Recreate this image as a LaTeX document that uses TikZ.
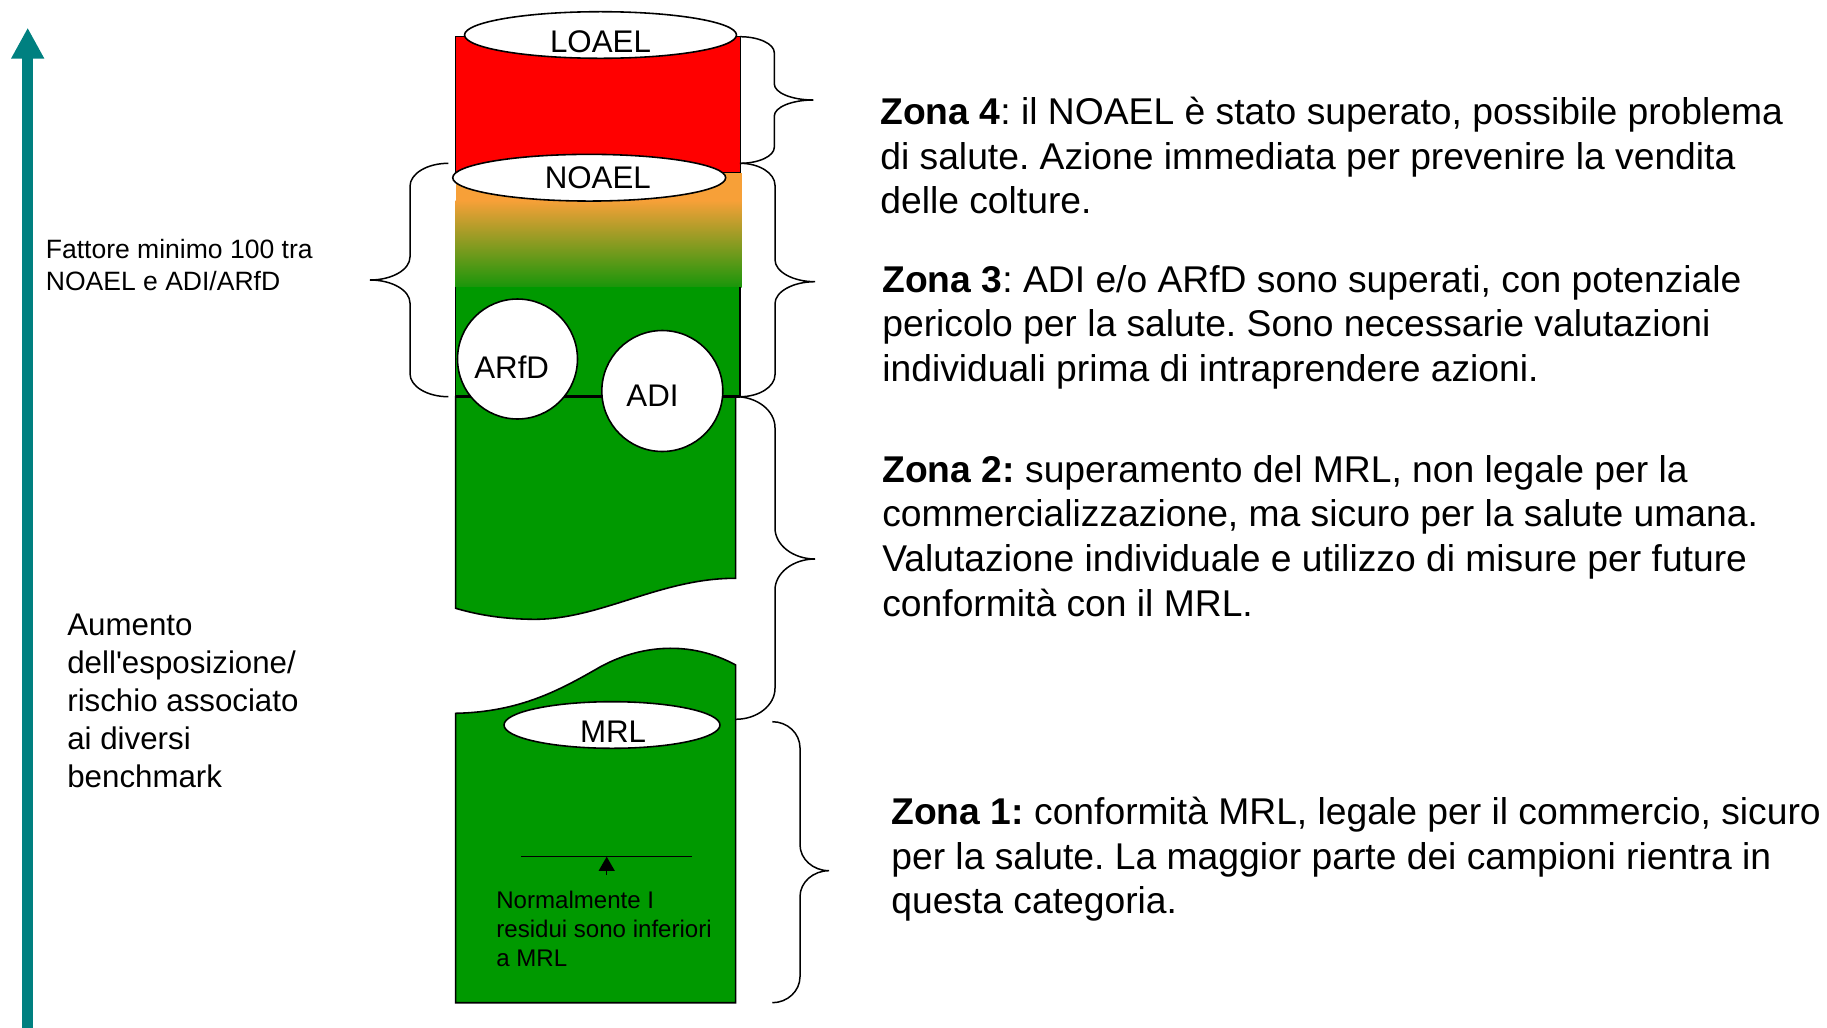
\documentclass[tikz,border=0pt]{standalone}
\usepackage{fontspec}
\setmainfont{Liberation Sans}
\usetikzlibrary{arrows.meta,shapes.geometric}
\frenchspacing

\definecolor{zred}{RGB}{255,0,0}
\definecolor{zgreen}{RGB}{0,153,0}
\definecolor{zorange}{RGB}{247,160,56}
\definecolor{zochre}{RGB}{175,152,42}
\definecolor{zolive}{RGB}{25,150,10}
\definecolor{zteal}{RGB}{0,128,128}

\tikzset{
  wall/.style={line width=0.9pt},
  tag/.style={inner sep=0pt,font=\fontsize{17.8}{21.4}\selectfont},
  lid/.style={ellipse,draw,fill=white,wall,inner sep=0pt},
  dose/.style={circle,draw,fill=white,wall,inner sep=0pt,minimum size=2.4cm},
  zone/.style={anchor=north west,inner sep=0pt,align=left,
    font=\fontsize{21.2}{25.5}\selectfont},
  side/.style={anchor=north west,inner sep=0pt,align=left},
  zonebrace/.style={line width=0.85pt}
}

\begin{document}
\begin{tikzpicture}[x=0.02cm,y=-0.02cm]
  \useasboundingbox (0,0) rectangle (1827,1028);

  \coordinate (axbot) at (27.7,1028);
  \coordinate (axtop) at (27.7,27.7);
  \draw[zteal,line width=6.3pt,-{Triangle[width=17.6pt,length=17.6pt]}] (axbot) -- (axtop);

  \draw[wall,fill=zred] (455.7,36.7) rectangle (740.7,173);
  \node[lid,minimum width=5.44cm,minimum height=0.932cm,
    label={[tag,yshift=-4pt]center:LOAEL}] (loael) at (600.5,35) {};
  \fill[zorange] (455.7,173) rectangle (741.7,201);
  \shade[top color=zorange,middle color=zochre,bottom color=zolive] (455.7,200.5) rectangle (741.7,287.3);
  \node[lid,minimum width=5.46cm,minimum height=0.934cm,
    label={[tag,xshift=4.9pt]center:NOAEL}] (noael) at (589.2,177.7) {};

  \fill[zgreen] (455.7,287.3) rectangle (740,396.7);
  \draw[wall] (455.7,287.3) -- (455.7,396.7) (740,287.3) -- (740,396.7);
  \draw[wall,fill=zgreen] (455.7,396.7) -- (735.7,396.7) -- (735.7,578.3)
    .. controls (660,578) and (600,620) .. (533,619.3)
    .. controls (500,619) and (475,614) .. (455.7,608.3) -- cycle;
  \draw[line width=1.4pt] (455.7,396.7) -- (740,396.7);
  \node[dose,label={[tag,xshift=-3.3pt,yshift=-4.4pt]center:ARfD}] (arfd) at (517.5,359) {};
  \node[dose,minimum size=2.42cm,label={[tag,xshift=-5.6pt,yshift=-2.9pt]center:ADI}] (adi) at (662.3,391) {};

  \draw[wall,fill=zgreen] (455.7,713.3) .. controls (520,712) and (560,690) .. (600,667)
    .. controls (640,645) and (690,640) .. (735.7,665)
    -- (735.7,1002.7) -- (455.7,1002.7) -- cycle;
  \node[lid,minimum width=4.32cm,minimum height=0.932cm,
    label={[tag,xshift=0.6pt,yshift=-3.6pt]center:MRL}] (mrl) at (612,725) {};

  \coordinate (resl) at (521,856.7);
  \coordinate (resr) at (692.3,856.7);
  \coordinate (resfoot) at (606.7,875);
  \coordinate (reshead) at (606.7,856.7);
  \draw[line width=0.75pt] (resl) -- (resr);
  \draw[line width=0.75pt,-{Triangle[width=9pt,length=8pt]}] (resfoot) -- (reshead);
  \node[side,font=\fontsize{13.7}{16.5}\selectfont] (note) at (496,887.7)
    {\strut Normalmente I\\residui sono inferiori\\a MRL};

  \draw[zonebrace] (740,36.7) .. controls +(18.9,0) and +(0,-8.8) .. (774.3,52.7) -- (774.3,84)
    .. controls +(0,8.8) and +(-21.5,0) .. (813.3,100) .. controls +(-21.5,0) and +(0,-8.8) .. (774.3,116)
    -- (774.3,147.3) .. controls +(0,8.8) and +(18.9,0) .. (740,163.3);
  \draw[zonebrace] (740,163.3) .. controls +(19.3,0) and +(0,-12.1) .. (775,185.3) -- (775,259.7)
    .. controls +(0,12.1) and +(-22,0) .. (815,281.7) .. controls +(-22,0) and +(0,-12.1) .. (775,303.7)
    -- (775,374.7) .. controls +(0,12.1) and +(19.3,0) .. (740,396.7);
  \draw[zonebrace] (735.7,396.7) .. controls +(21.6,0) and +(0,-17) .. (775,427.7) -- (775,528)
    .. controls +(0,17) and +(-22,0) .. (815,559) .. controls +(-22,0) and +(0,-17) .. (775,590)
    -- (775,688.3) .. controls +(0,17) and +(21.6,0) .. (735.7,719.3);
  \draw[zonebrace] (772.3,721.7) .. controls +(15.2,0) and +(0,-14.3) .. (800,747.7) -- (800,844.7)
    .. controls +(0,14.3) and +(-16,0) .. (829,870.7) .. controls +(-16,0) and +(0,-14.3) .. (800,896.7)
    -- (800,976.7) .. controls +(0,14.3) and +(15.2,0) .. (772.3,1002.7);
  \draw[zonebrace] (448.3,163.3) .. controls +(-21.1,0) and +(0,-12.7) .. (410,186.3) -- (410,257)
    .. controls +(0,12.7) and +(22,0) .. (370,280) .. controls +(22,0) and +(0,-12.7) .. (410,303)
    -- (410,373.7) .. controls +(0,12.7) and +(-21.1,0) .. (448.3,396.7);

  \node[side,font=\fontsize{15.1}{18.4}\selectfont] (factor) at (45.5,235.1)
    {\strut Fattore minimo 100 tra\\NOAEL e ADI/ARfD};
  \node[side,font=\fontsize{17.8}{21.7}\selectfont] (rise) at (67,608.3)
    {\strut Aumento\\dell\textquotesingle esposizione/\\rischio associato\\ai diversi\\benchmark};

  \node[zone] (z4) at (880,92.6)
    {\strut\textbf{Zona 4}: il NOAEL è stato superato, possibile problema\\di salute. Azione immediata per prevenire la vendita\\delle colture.};
  \node[zone] (z3) at (882,260.3)
    {\strut\textbf{Zona 3}: ADI e/o ARfD sono superati, con potenziale\\pericolo per la salute. Sono necessarie valutazioni\\individuali prima di intraprendere azioni.};
  \node[zone] (z2) at (882,450.3)
    {\strut\textbf{Zona 2:} superamento del MRL, non legale per la\\commercializzazione, ma sicuro per la salute umana.\\Valutazione individuale e utilizzo di misure per future\\conformità con il MRL.};
  \node[zone] (z1) at (891,792.6)
    {\strut\textbf{Zona 1:} conformità MRL, legale per il commercio, sicuro\\per la salute. La maggior parte dei campioni rientra in\\questa categoria.};
\end{tikzpicture}
\end{document}
